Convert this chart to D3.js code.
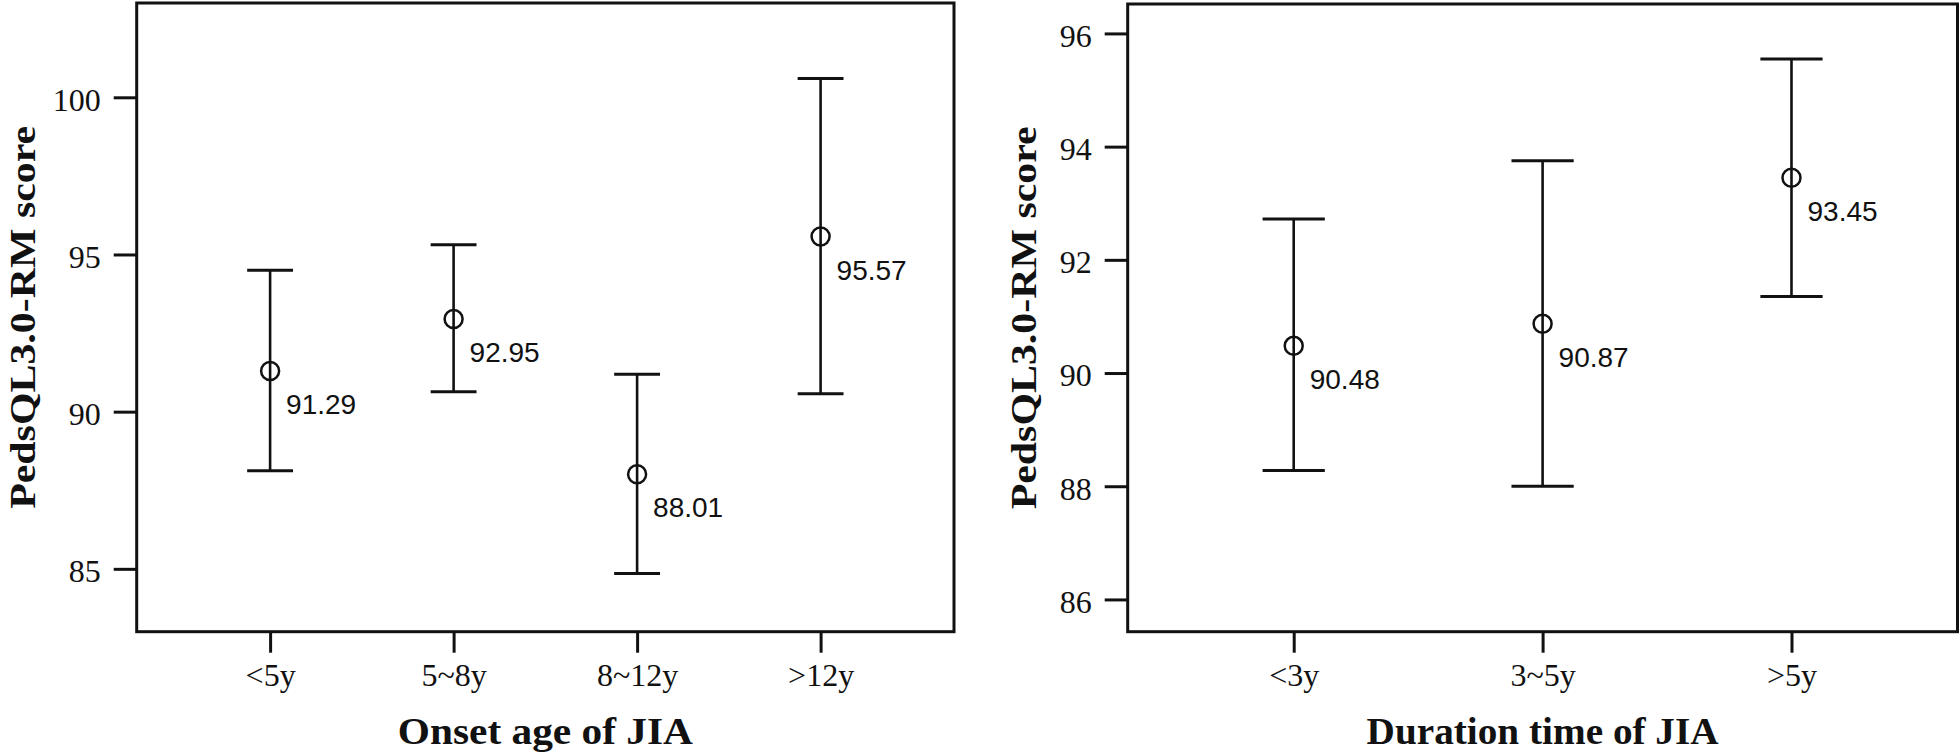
<!DOCTYPE html>
<html>
<head>
<meta charset="utf-8">
<script src="https://cdn.jsdelivr.net/npm/d3@7"></script>
<style>
  html, body { margin: 0; padding: 0; background: #fff; }
  svg { display: block; }
</style>
</head>
<body>
<svg id="chart" width="1960" height="754"></svg>
<script>
// ---- Data ----
const leftCategories = ["<5y", "5~8y", "8~12y", ">12y"];
const leftMeans = [91.29, 92.95, 88.01, 95.57];
const leftLower = [88.12, 90.63, 84.85, 90.57];
const leftUpper = [94.50, 95.31, 91.19, 100.60];
const leftTicks = [85, 90, 95, 100];
const leftDomain = [83, 103];

const rightCategories = ["<3y", "3~5y", ">5y"];
const rightMeans = [90.48, 90.87, 93.45];
const rightLower = [88.28, 88.00, 91.35];
const rightUpper = [92.72, 93.75, 95.55];
const rightTicks = [86, 88, 90, 92, 94, 96];
const rightDomain = [85.43, 96.52];

const yTitle = "PedsQL3.0-RM score";
const leftXTitle = "Onset age of JIA";
const rightXTitle = "Duration time of JIA";

// ---- Drawing ----
const svg = d3.select("#chart");
const serif = "'Liberation Serif', 'Times New Roman', serif";
const sans = "'Liberation Sans', Arial, sans-serif";
const ink = "#111";

function panel(cfg) {
  const g = svg.append("g");
  const x = d3.scalePoint().domain(cfg.categories).range([cfg.x0, cfg.x1]).padding(cfg.pad);
  const y = d3.scaleLinear().domain(cfg.domain).range([cfg.y1, cfg.y0]);
  const step = x.step();
  const cap = step * 0.25;

  // y axis
  const ya = g.append("g")
    .attr("transform", `translate(${cfg.x0},0)`)
    .call(d3.axisLeft(y).tickValues(cfg.ticks).tickSize(23).tickSizeOuter(0).tickPadding(13).tickFormat(d3.format("d")));
  ya.select(".domain").remove();
  ya.selectAll(".tick line").attr("stroke", ink).attr("stroke-width", 3);
  ya.selectAll(".tick text").attr("fill", ink).style("font-family", serif).style("font-size", "32px").attr("dy", "0.40em");

  // x axis
  const xa = g.append("g")
    .attr("transform", `translate(0,${cfg.y1})`)
    .call(d3.axisBottom(x).tickSize(21).tickSizeOuter(0).tickPadding(11));
  xa.select(".domain").remove();
  xa.selectAll(".tick line").attr("stroke", ink).attr("stroke-width", 3);
  xa.selectAll(".tick text").attr("fill", ink).style("font-family", serif).style("font-size", "32px");

  // frame
  g.append("rect")
    .attr("x", cfg.x0).attr("y", cfg.y0)
    .attr("width", cfg.x1 - cfg.x0).attr("height", cfg.y1 - cfg.y0)
    .attr("fill", "none").attr("stroke", ink).attr("stroke-width", 3);

  const data = cfg.categories.map((c, i) => ({c, m: cfg.means[i], lo: cfg.lower[i], hi: cfg.upper[i]}));
  const bars = g.append("g").selectAll("g").data(data).join("g");
  bars.append("line")
    .attr("x1", d => x(d.c)).attr("x2", d => x(d.c))
    .attr("y1", d => y(d.hi)).attr("y2", d => y(d.lo))
    .attr("stroke", ink).attr("stroke-width", 2.6);
  bars.append("line")
    .attr("x1", d => x(d.c) - cap / 2).attr("x2", d => x(d.c) + cap / 2)
    .attr("y1", d => y(d.hi)).attr("y2", d => y(d.hi))
    .attr("stroke", ink).attr("stroke-width", 3);
  bars.append("line")
    .attr("x1", d => x(d.c) - cap / 2).attr("x2", d => x(d.c) + cap / 2)
    .attr("y1", d => y(d.lo)).attr("y2", d => y(d.lo))
    .attr("stroke", ink).attr("stroke-width", 3);
  bars.append("circle")
    .attr("cx", d => x(d.c)).attr("cy", d => y(d.m)).attr("r", 9)
    .attr("fill", "none").attr("stroke", ink).attr("stroke-width", 2.5);
  bars.append("text")
    .attr("x", d => x(d.c) + 16).attr("y", d => y(d.m) + 43)
    .attr("fill", ink).style("font-family", sans).style("font-size", "28px")
    .text(d => d.m.toFixed(2));

  // titles
  g.append("text")
    .attr("transform", `translate(${cfg.yTitleX},${(cfg.y0 + cfg.y1) / 2}) rotate(-90)`)
    .attr("text-anchor", "middle")
    .attr("textLength", 383).attr("lengthAdjust", "spacingAndGlyphs")
    .attr("fill", ink).style("font-family", serif).style("font-weight", "bold").style("font-size", "36px")
    .text(yTitle);
  g.append("text")
    .attr("x", (cfg.x0 + cfg.x1) / 2).attr("y", 744)
    .attr("text-anchor", "middle")
    .attr("textLength", cfg.xTitleLen).attr("lengthAdjust", "spacingAndGlyphs")
    .attr("fill", ink).style("font-family", serif).style("font-weight", "bold").style("font-size", "38px")
    .text(cfg.xTitle);
}

panel({
  categories: leftCategories, means: leftMeans, lower: leftLower, upper: leftUpper,
  ticks: leftTicks, domain: leftDomain,
  x0: 136.7, x1: 954, y0: 3, y1: 631.7, pad: 0.727,
  yTitleX: 35, xTitle: leftXTitle, xTitleLen: 295
});
panel({
  categories: rightCategories, means: rightMeans, lower: rightLower, upper: rightUpper,
  ticks: rightTicks, domain: rightDomain,
  x0: 1127.7, x1: 1957.5, y0: 4, y1: 631.7, pad: 0.667,
  yTitleX: 1036, xTitle: rightXTitle, xTitleLen: 352
});
</script>
</body>
</html>
